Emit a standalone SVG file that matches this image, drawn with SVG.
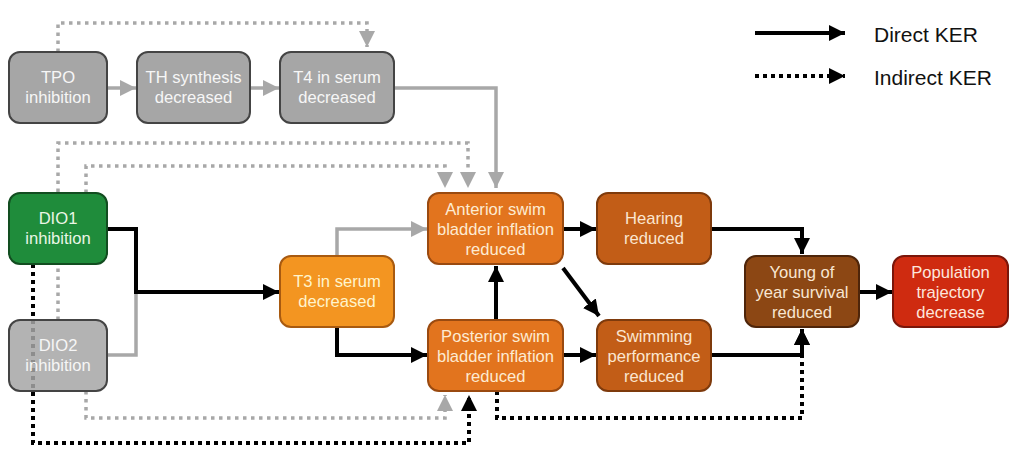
<svg xmlns="http://www.w3.org/2000/svg" width="1024" height="472" viewBox="0 0 1024 472">
<style>
  .box { stroke-width: 2; }
  .t { font-family: "Liberation Sans", Arial, sans-serif; font-size: 16.6px; text-anchor: middle; }
  .leg { font-family: "Liberation Sans", Arial, sans-serif; font-size: 21px; fill: #111; }
  .grey rect { fill: #a6a6a6; stroke: #444; }
  .grey text { fill: #f6f6f6; }
  .c { fill: none; }
  .bs { stroke: #000; stroke-width: 4; }
  .gs { stroke: #a8a8a8; stroke-width: 3.5; }
  .bd { stroke: #000; stroke-width: 4; stroke-dasharray: 4 4; }
  .gd { stroke: #a8a8a8; stroke-width: 3.5; stroke-dasharray: 3.5 4.5; }
</style>
<defs>
  <marker id="ab" markerUnits="userSpaceOnUse" markerWidth="18" markerHeight="18" refX="16" refY="8" orient="auto" viewBox="0 0 18 16">
    <path d="M0,0 L16,8 L0,16 Z" fill="#000"/>
  </marker>
  <marker id="ag" markerUnits="userSpaceOnUse" markerWidth="18" markerHeight="18" refX="16" refY="8" orient="auto" viewBox="0 0 18 16">
    <path d="M0,0 L16,8 L0,16 Z" fill="#a8a8a8"/>
  </marker>
</defs>
<rect width="1024" height="472" fill="#fff"/>

<g id="connectors">
  <!-- grey solid -->
  <path class="c gs" d="M107,88 H136" marker-end="url(#ag)"/>
  <path class="c gs" d="M250,88 H279" marker-end="url(#ag)"/>
  <path class="c gs" d="M394,88 H496 V188" marker-end="url(#ag)"/>
  <path class="c gs" d="M107,355 H136 V292"/>
  <path class="c gs" d="M337,256 V229 H427" marker-end="url(#ag)"/>
  <!-- grey dotted -->
  <path class="c gd" d="M58,52 V23 H367 V47" marker-end="url(#ag)"/>
  <path class="c gd" d="M58,320 V143 H468 V188" marker-end="url(#ag)"/>
  <path class="c gd" d="M86,193 V166 H445 V188" marker-end="url(#ag)"/>
  <path class="c gd" d="M86,391 V418 H445 V395" marker-end="url(#ag)"/>
  <!-- black solid -->
  <path class="c bs" d="M107,229 H136 V292 H279" marker-end="url(#ab)"/>
  <path class="c bs" d="M337,327 V355 H427" marker-end="url(#ab)"/>
  <path class="c bs" d="M563,229 H596" marker-end="url(#ab)"/>
  <path class="c bs" d="M563,268 L599,316" marker-end="url(#ab)"/>
  <path class="c bs" d="M496,320 V266" marker-end="url(#ab)"/>
  <path class="c bs" d="M563,355 H596" marker-end="url(#ab)"/>
  <path class="c bs" d="M711,229 H802 V254" marker-end="url(#ab)"/>
  <path class="c bs" d="M711,355 H802 V329" marker-end="url(#ab)"/>
  <path class="c bs" d="M859,292 H892" marker-end="url(#ab)"/>
  <!-- black dotted -->
  <path class="c bd" d="M33,264 V443 H469 V395" marker-end="url(#ab)"/>
  <path class="c bd" d="M497,391 V418 H802 V329" marker-end="url(#ab)"/>
</g>

<g id="tpo" class="grey">
  <rect class="box" x="9" y="52" width="98" height="71" rx="11"/>
  <text class="t" x="58" y="83">TPO</text>
  <text class="t" x="58" y="103">inhibition</text>
</g>
<g id="th" class="grey">
  <rect class="box" x="137" y="52" width="113" height="71" rx="11"/>
  <text class="t" x="193.5" y="83">TH synthesis</text>
  <text class="t" x="193.5" y="103">decreased</text>
</g>
<g id="t4" class="grey">
  <rect class="box" x="280" y="52" width="114" height="71" rx="11"/>
  <text class="t" x="337" y="83">T4 in serum</text>
  <text class="t" x="337" y="103">decreased</text>
</g>
<g id="dio1">
  <rect class="box" x="9" y="193" width="98" height="71" rx="11" fill="#1f8c3b" stroke="#124d20"/>
  <text class="t" x="58" y="224" fill="#eaf6e6">DIO1</text>
  <text class="t" x="58" y="244" fill="#eaf6e6">inhibition</text>
</g>
<g id="dio2" class="grey">
  <rect class="box" x="9" y="320" width="98" height="71" rx="11" fill-opacity="0.85"/>
  <text class="t" x="58" y="351">DIO2</text>
  <text class="t" x="58" y="371">inhibition</text>
</g>
<g id="t3">
  <rect class="box" x="280" y="256" width="114" height="71" rx="11" fill="#f39521" stroke="#a85a10"/>
  <text class="t" x="337" y="287" fill="#fff4cc">T3 in serum</text>
  <text class="t" x="337" y="307" fill="#fff4cc">decreased</text>
</g>
<g id="anterior">
  <rect class="box" x="428" y="193" width="135" height="71" rx="11" fill="#e2741e" stroke="#9a4a10"/>
  <text class="t" x="495.5" y="215" fill="#fdebd2">Anterior swim</text>
  <text class="t" x="495.5" y="235" fill="#fdebd2">bladder inflation</text>
  <text class="t" x="495.5" y="255" fill="#fdebd2">reduced</text>
</g>
<g id="hearing">
  <rect class="box" x="597" y="193" width="114" height="71" rx="11" fill="#c25d17" stroke="#7e3a0c"/>
  <text class="t" x="654" y="224" fill="#fbe6d0">Hearing</text>
  <text class="t" x="654" y="244" fill="#fbe6d0">reduced</text>
</g>
<g id="posterior">
  <rect class="box" x="428" y="320" width="135" height="71" rx="11" fill="#e2741e" stroke="#9a4a10"/>
  <text class="t" x="495.5" y="342" fill="#fdebd2">Posterior swim</text>
  <text class="t" x="495.5" y="362" fill="#fdebd2">bladder inflation</text>
  <text class="t" x="495.5" y="382" fill="#fdebd2">reduced</text>
</g>
<g id="swimming">
  <rect class="box" x="597" y="320" width="114" height="71" rx="11" fill="#c25d17" stroke="#7e3a0c"/>
  <text class="t" x="654" y="342" fill="#fbe6d0">Swimming</text>
  <text class="t" x="654" y="362" fill="#fbe6d0">performance</text>
  <text class="t" x="654" y="382" fill="#fbe6d0">reduced</text>
</g>
<g id="young">
  <rect class="box" x="745" y="256" width="114" height="71" rx="11" fill="#8c4714" stroke="#4e250a"/>
  <text class="t" x="802" y="278" fill="#f8e6d2">Young of</text>
  <text class="t" x="802" y="298" fill="#f8e6d2">year survival</text>
  <text class="t" x="802" y="318" fill="#f8e6d2">reduced</text>
</g>
<g id="population">
  <rect class="box" x="893" y="256" width="115" height="71" rx="11" fill="#cf2b10" stroke="#7a160a"/>
  <text class="t" x="950.5" y="278" fill="#fde6dc">Population</text>
  <text class="t" x="950.5" y="298" fill="#fde6dc">trajectory</text>
  <text class="t" x="950.5" y="318" fill="#fde6dc">decrease</text>
</g>

<g id="legend">
  <path class="c bs" d="M755,33 H845" marker-end="url(#ab)"/>
  <text class="leg" x="874" y="42">Direct KER</text>
  <path class="c bd" d="M755,76 H845" marker-end="url(#ab)"/>
  <text class="leg" x="874" y="85">Indirect KER</text>
</g>
</svg>
